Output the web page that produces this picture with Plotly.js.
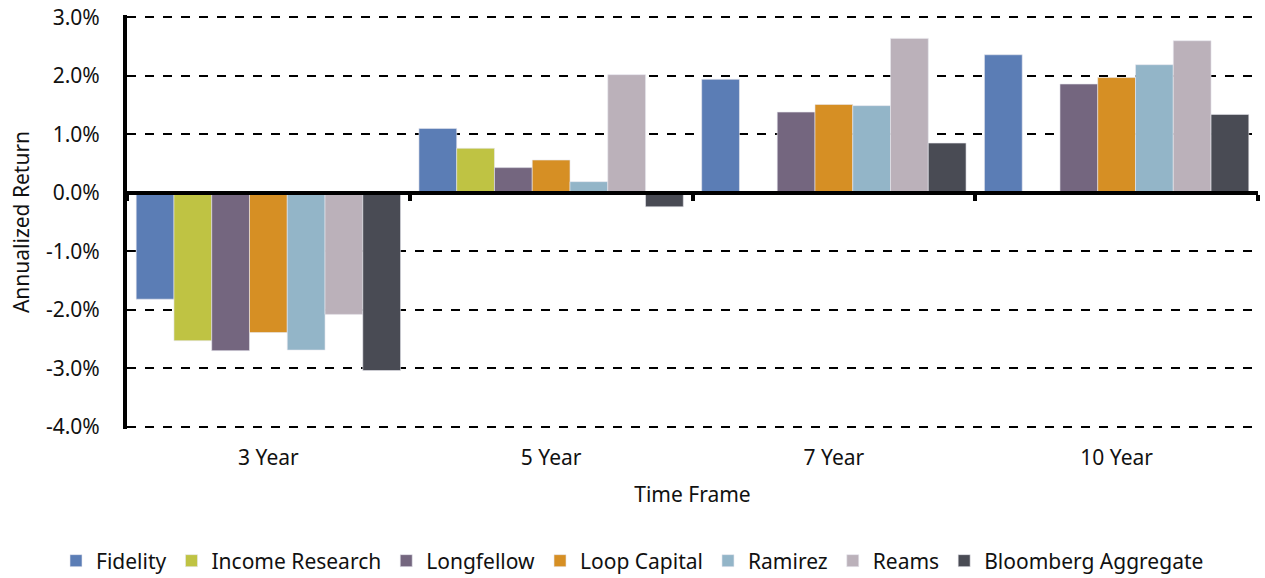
<!DOCTYPE html>
<html>
<head>
<meta charset="utf-8">
<script src="https://cdn.plot.ly/plotly-3.0.1.min.js"></script>
<style>html,body{margin:0;padding:0;background:#fff;}#chart{width:1265px;height:578px;}</style>
</head>
<body>
<div id="chart"></div>
<script>
const categories = ["3 Year", "5 Year", "7 Year", "10 Year"];
const seriesNames = ["Fidelity", "Income Research", "Longfellow", "Loop Capital", "Ramirez", "Reams", "Bloomberg Aggregate"];
const fidelity = [-1.82, 1.10, 1.94, 2.36];
const incomeResearch = [-2.53, 0.76, null, null];
const longfellow = [-2.70, 0.43, 1.38, 1.86];
const loopCapital = [-2.39, 0.56, 1.51, 1.97];
const ramirez = [-2.69, 0.19, 1.49, 2.19];
const reams = [-2.08, 2.02, 2.64, 2.60];
const bloomberg = [-3.04, -0.24, 0.85, 1.34];
const colors = ["#5B7DB5", "#BFC343", "#74667F", "#D68F24", "#93B5C8", "#BBB1BA", "#494B54"];
const yTicks = [-4, -3, -2, -1, 0, 1, 2, 3];

const seriesValues = [fidelity, incomeResearch, longfellow, loopCapital, ramirez, reams, bloomberg];
const font = "'Noto Sans', Lato, sans-serif";

const traces = seriesValues.map((vals, i) => ({
  type: "bar",
  name: seriesNames[i],
  x: categories,
  y: vals,
  marker: {color: colors[i], line: {width: 0.6, color: "#e8e8ee"}},
  hoverinfo: "skip"
}));

traces.push({
  type: "scatter",
  x: categories,
  y: categories.map(() => 0),
  xaxis: "x2",
  mode: "none",
  showlegend: false,
  hoverinfo: "skip"
});

const yMin = -4.04, yMax = 3.04;
const W = 1265, H = 578, mL = 5, mR = 5;
const plotW = W - mL - mR;
const xDomain = [(127 - mL) / plotW, (1258 - mL) / plotW];

const layout = {
  width: W,
  height: H,
  margin: {l: mL, r: mR, t: 15, b: 149},
  paper_bgcolor: "#fff",
  plot_bgcolor: "#fff",
  font: {family: font, color: "#111", size: 21},
  barmode: "group",
  bargap: 0.065,
  bargroupgap: 0,
  showlegend: true,
  legend: {
    orientation: "h",
    x: 0.5, xanchor: "center", xref: "container",
    y: (H - 561) / H, yanchor: "middle", yref: "container",
    font: {size: 21, family: font, color: "#111"},
    itemwidth: 30,
    tracegroupgap: 0,
    itemclick: false
  },
  xaxis: {
    type: "category",
    domain: xDomain,
    categoryarray: categories,
    showgrid: false,
    showline: false,
    zeroline: false,
    ticks: "",
    automargin: false,
    ticklabelstandoff: 14,
    tickfont: {size: 21, family: font, color: "#111"},
    title: {text: "Time Frame", font: {size: 21, family: font, color: "#111"}, standoff: 17},
    fixedrange: true
  },
  xaxis2: {
    type: "category",
    domain: xDomain,
    categoryarray: categories,
    matches: "x",
    overlaying: "x",
    anchor: "free",
    position: (0 - yMin) / (yMax - yMin),
    side: "bottom",
    showline: true,
    linecolor: "#000",
    linewidth: 4,
    ticks: "outside",
    tickson: "boundaries",
    ticklen: 6,
    tickwidth: 4,
    tickcolor: "#000",
    showticklabels: false,
    showgrid: false,
    zeroline: false
  },
  yaxis: {
    range: [yMin, yMax],
    tickvals: yTicks,
    ticktext: yTicks.map(v => v.toFixed(1) + "%"),
    showgrid: true,
    gridcolor: "#000",
    gridwidth: 2,
    griddash: "dash",
    zeroline: false,
    showline: true,
    linecolor: "#000",
    linewidth: 4,
    ticks: "",
    automargin: false,
    ticklabelstandoff: 19,
    tickfont: {size: 21, family: font, color: "#111"},
    title: {text: "Annualized Return", font: {size: 21, family: font, color: "#111"}, standoff: 12},
    fixedrange: true
  }
};

Plotly.newPlot("chart", traces, layout, {displayModeBar: false, staticPlot: true});
</script>
</body>
</html>
